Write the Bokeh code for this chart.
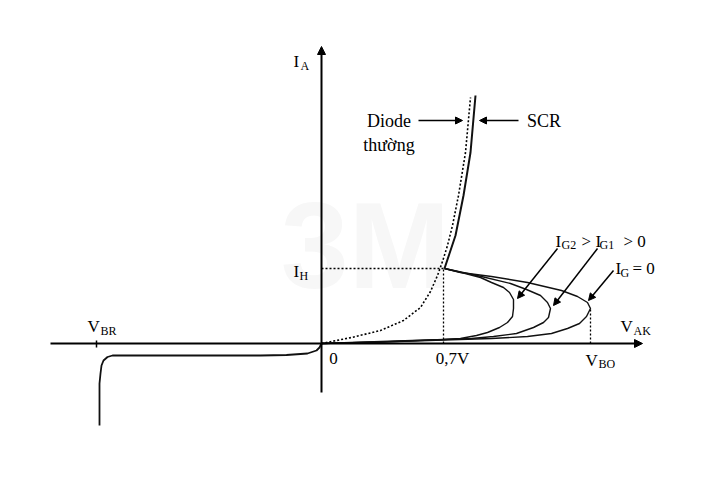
from bokeh.plotting import figure
from bokeh.models import Range1d, Arrow, NormalHead
from bokeh.core.properties import value
from bokeh.embed import file_html
from bokeh.resources import INLINE

# ---- data (arbitrary schematic units, origin at V=0, I=0) ----
# ordinary diode forward curve (dotted)
diode_x = [0, 30, 59, 82, 99, 109, 116, 121, 126, 131, 137, 144, 149]
diode_y = [0, 6, 13, 23, 36, 52, 68, 82, 98, 118, 148, 191, 246]

# SCR on-state branch
scr_on_x = [123, 128, 134, 142, 149, 154]
scr_on_y = [75, 90, 108, 148, 191, 248]

# forward blocking branches for three gate currents
ig0_x = [0, 60, 122, 170, 206, 230, 246, 258, 265, 269, 266, 256, 240, 206, 170, 139, 123]
ig0_y = [0, 1.5, 3.5, 5, 7, 10, 15, 20, 27, 35, 41, 47, 53, 61, 67, 71, 75]

ig1_x = [0, 60, 122, 150, 172, 195, 212, 222, 227, 229, 226, 219, 205, 189, 160, 123]
ig1_y = [0, 1.5, 4, 5, 7, 10, 16, 21, 26, 35, 41, 48, 54, 60, 67, 75]

ig2_x = [0, 60, 122, 139, 155, 166, 178, 186, 191, 192, 192, 188, 182, 170, 159, 140, 123]
ig2_y = [0, 2, 4, 5, 8, 11, 16, 21, 27, 35, 44, 51, 56, 61, 66, 71, 75]

# reverse characteristic
rev_x = [0, -2, -5, -14, -35, -61, -209, -214, -218, -220, -221, -222, -222]
rev_y = [0, -4, -7, -10, -11.5, -12, -12, -13.5, -17, -22, -30, -40, -82]

# key points
v_on = 122      # 0,7V
i_hold = 75     # I_H
v_bo = 269      # V_BO
i_bo = 35
v_br = -225     # V_BR

FONT = value("Liberation Serif")

p = figure(width=704, height=464, x_range=Range1d(-321, 383), y_range=Range1d(-121, 343),
           output_backend="svg", toolbar_location=None, min_border=0,
           x_axis_type=None, y_axis_type=None, background_fill_color="white",
           border_fill_color="white", outline_line_color=None)
p.grid.visible = False

# watermark
p.text(x=[44], y=[98], text=["3M"], text_font=value("Liberation Sans"), text_font_style="bold",
       text_font_size="122px", text_color="#f7f7f7", text_align="center", text_baseline="middle")

# axes
def arrow(x0, y0, x1, y1, size=8, lw=1.5):
    p.add_layout(Arrow(end=NormalHead(size=size, fill_color="black", line_color="black", line_width=1),
                       x_start=x0, y_start=y0, x_end=x1, y_end=y1,
                       line_color="black", line_width=lw))

arrow(-271, 0, 321, 0, size=8, lw=2)
arrow(0, -49, 0, 297, size=8, lw=2)

# V_BR tick
p.segment(x0=[v_br], y0=[3], x1=[v_br], y1=[-4], line_color="black", line_width=1.5)

# dotted guides
p.line([0, v_on], [i_hold, i_hold], line_dash="2 2", line_color="black", line_width=1.3)
p.line([v_on, v_on], [0, i_hold], line_dash="2 2", line_color="black", line_width=1.3)
p.line([v_bo, v_bo], [0, i_bo], line_dash="2 2", line_color="black", line_width=1.3)

# curves
p.line(diode_x, diode_y, line_dash="2 2", line_color="black", line_width=1.6)
p.line(scr_on_x, scr_on_y, line_color="#111111", line_width=2)
for xs, ys in ((ig0_x, ig0_y), (ig1_x, ig1_y), (ig2_x, ig2_y)):
    p.line(xs, ys, line_color="#111111", line_width=1.4)
p.line(rev_x, rev_y, line_color="#111111", line_width=1.8)

# label arrows
arrow(97, 223, 141, 223, size=7, lw=1.5)
arrow(197, 223, 158, 223, size=7, lw=1.5)
arrow(236, 95, 196, 45, size=7, lw=1.5)
arrow(276, 95, 232, 38, size=7, lw=1.5)
arrow(292, 73, 267, 43, size=7, lw=1.5)

def txt(x, y, s, size="17px", align="left"):
    p.text(x=[x], y=[y], text=[s], text_font=FONT, text_font_size=size,
           text_color="black", text_align=align, text_baseline="middle")

# axis labels
txt(-28, 282, "I"); txt(-21, 278, "A", "12px")
txt(-28, 72, "I"); txt(-22, 68, "H", "12px")
txt(12, -15, "0", align="center")
txt(131, -15, "0,7V", align="center")
txt(264, -17, "V"); txt(277, -20, "BO", "12px")
txt(299, 17, "V"); txt(312, 13, "AK", "12px")
txt(-234, 17, "V"); txt(-221, 13, "BR", "12px")

# curve labels
txt(67.5, 223, "Diode", "18px", "center")
txt(67.5, 199, "thường", "18px", "center")
txt(222.5, 223, "SCR", "18px", "center")

txt(294, 75, "I"); txt(299, 71, "G", "12px"); txt(311, 75, "= 0")
txt(234, 102, "I"); txt(240, 99, "G2", "12px"); txt(260, 102, ">")
txt(274, 102, "I"); txt(278, 99, "G1", "12px"); txt(302, 102, "> 0")

open("out.html", "w").write(file_html(p, INLINE))
